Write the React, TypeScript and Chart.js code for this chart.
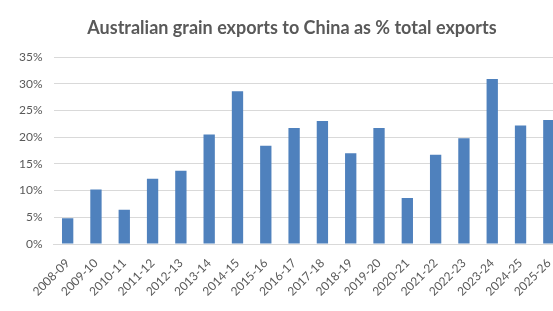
import React, { useEffect, useRef } from "react";
import { Chart, registerables } from "chart.js";

Chart.register(...registerables);

const TITLE = "Australian grain exports to China as % total exports";
const categories = [
  "2008-09", "2009-10", "2010-11", "2011-12", "2012-13", "2013-14",
  "2014-15", "2015-16", "2016-17", "2017-18", "2018-19", "2019-20",
  "2020-21", "2021-22", "2022-23", "2023-24", "2024-25", "2025-26",
];
const sharePct = [
  4.8, 10.2, 6.4, 12.2, 13.7, 20.5,
  28.6, 18.4, 21.7, 23.0, 17.0, 21.7,
  8.6, 16.7, 19.8, 30.9, 22.2, 23.2,
];
const yTicks = [0, 5, 10, 15, 20, 25, 30, 35];

const TEXT = "#595959";
const FONT = "Lato, 'Liberation Sans', sans-serif";

const titlePlugin = {
  id: "customTitle",
  afterDraw(chart: any) {
    const ctx = chart.ctx;
    ctx.save();
    ctx.font = `bold 18px ${FONT}`;
    ctx.fillStyle = TEXT;
    ctx.textAlign = "center";
    ctx.textBaseline = "middle";
    ctx.fillText(TITLE, 292, 28);
    ctx.restore();
  },
};

export default function App() {
  const ref = useRef<HTMLCanvasElement | null>(null);
  useEffect(() => {
    if (!ref.current) return;
    const chart = new Chart(ref.current, {
      type: "bar",
      data: {
        labels: categories,
        datasets: [
          {
            data: sharePct,
            backgroundColor: "#4F81BD",
            borderWidth: 0,
            categoryPercentage: 1,
            barPercentage: 0.4,
          },
        ],
      },
      options: {
        responsive: false,
        animation: false,
        devicePixelRatio: 1,
        layout: { padding: { top: 57, right: 7, left: 0, bottom: 0 } },
        plugins: { legend: { display: false }, title: { display: false }, tooltip: { enabled: false } },
        scales: {
          x: {
            grid: { display: false },
            border: { display: true, color: "#d9d9d9", width: 1 },
            ticks: {
              color: TEXT,
              font: { family: FONT, size: 12 },
              minRotation: 45,
              maxRotation: 45,
              autoSkip: false,
              padding: 4,
            },
            afterFit(scale: any) {
              scale.height = 67;
            },
          },
          y: {
            min: 0,
            max: 35,
            afterBuildTicks(scale: any) {
              scale.ticks = yTicks.map((v) => ({ value: v }));
            },
            grid: { color: "#d9d9d9", lineWidth: 1, drawTicks: false },
            border: { display: false },
            ticks: {
              color: TEXT,
              font: { family: FONT, size: 12 },
              padding: 11,
              callback: (v: any) => `${v}%`,
            },
            afterFit(scale: any) {
              scale.width = 53.5;
            },
          },
        },
      },
      plugins: [titlePlugin],
    });
    return () => chart.destroy();
  }, []);
  return (
    <div
      style={{
        position: "fixed",
        left: 0,
        top: 0,
        width: 553,
        height: 311,
        overflow: "hidden",
        background: "#ffffff",
      }}
    >
      <canvas ref={ref} width={570} height={311} style={{ display: "block" }} />
    </div>
  );
}
